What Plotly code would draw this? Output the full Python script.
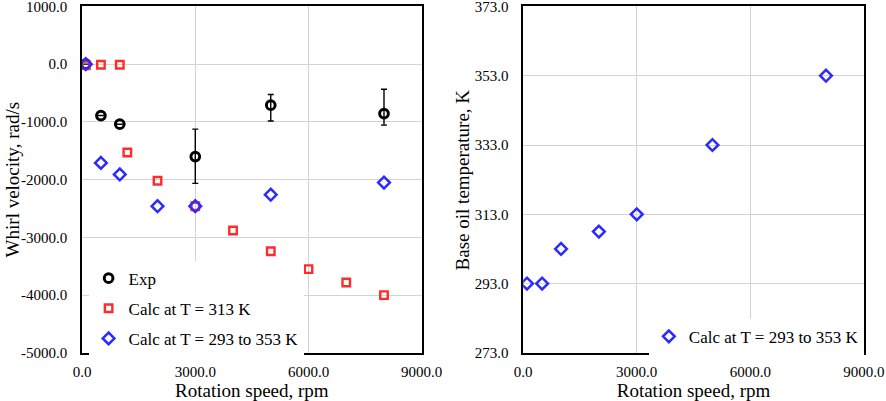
import plotly.graph_objects as go
from plotly.subplots import make_subplots

# experimental whirl velocity
exp_speed = [100, 500, 1000, 3000, 5000, 8000]
exp_whirl = [0, -890, -1040, -1600, -710, -855]
exp_err_plus = [0, 0, 0, 475, 185, 420]
exp_err_minus = [0, 0, 0, 465, 275, 200]

# calculated at constant 313 K
calc313_speed = [100, 500, 1000, 1200, 2000, 3000, 4000, 5000, 6000, 7000, 8000]
calc313_whirl = [-20, -10, -10, -1530, -2020, -2460, -2880, -3240, -3550, -3780, -4000]

# calculated with temperature 293 to 353 K
calcT_speed = [100, 500, 1000, 2000, 3000, 5000, 8000]
calcT_whirl = [0, -1710, -1910, -2460, -2460, -2260, -2050]
calcT_temp = [293, 293, 303, 308, 313, 333, 353]

x_ticks = [0, 3000, 6000, 9000]
x_ticktext = ["0.0", "3000.0", "6000.0", "9000.0"]
whirl_ticks = [1000, 0, -1000, -2000, -3000, -4000, -5000]
whirl_ticktext = ["1000.0", "0.0", "-1000.0", "-2000.0", "-3000.0", "-4000.0", "-5000.0"]
temp_ticks = [273, 293, 313, 333, 353, 373]
temp_ticktext = ["273.0", "293.0", "313.0", "333.0", "353.0", "373.0"]

FONT = "Liberation Serif"
RED = "#ff2b2b"
BLUE = "#2b2bff"

fig = make_subplots(rows=1, cols=2)

fig.add_trace(
    go.Scatter(
        x=exp_speed, y=exp_whirl, mode="markers", name="Exp",
        marker=dict(symbol="circle-open", size=8.7, color="black", line=dict(width=3)),
        error_y=dict(type="data", symmetric=False, array=exp_err_plus,
                     arrayminus=exp_err_minus, color="black", thickness=1.4, width=3),
        legendgroup="a", legend="legend",
    ),
    row=1, col=1,
)
fig.add_trace(
    go.Scatter(
        x=calc313_speed, y=calc313_whirl, mode="markers", name="Calc at T = 313 K",
        marker=dict(symbol="square-open", size=7.5, color=RED, line=dict(width=2.4)),
        legendgroup="b", legend="legend",
    ),
    row=1, col=1,
)
fig.add_trace(
    go.Scatter(
        x=calcT_speed, y=calcT_whirl, mode="markers", name="Calc at T = 293 to 353 K",
        marker=dict(symbol="diamond-open", size=9, color=BLUE, line=dict(width=2.5)),
        legendgroup="c", legend="legend",
    ),
    row=1, col=1,
)
fig.add_trace(
    go.Scatter(
        x=calcT_speed, y=calcT_temp, mode="markers", name="Calc at T = 293 to 353 K",
        marker=dict(symbol="diamond-open", size=9, color=BLUE, line=dict(width=2.5)),
        legend="legend2",
    ),
    row=1, col=2,
)

axis_common = dict(
    showline=True, linecolor="black", linewidth=1.5, mirror=True,
    showgrid=True, gridcolor="#d4d4d4", gridwidth=1, zeroline=False,
    ticks="", tickfont=dict(family=FONT, size=15, color="black"),
    title_font=dict(family=FONT, size=19, color="black"),
    ticklabeloverflow="allow",
)

fig.update_xaxes(
    range=[0, 9000], tickvals=x_ticks, ticktext=x_ticktext,
    title_text="Rotation speed, rpm", ticklabelstandoff=4, **axis_common,
)
fig.update_xaxes(domain=[0.0926, 0.476], row=1, col=1)
fig.update_xaxes(domain=[0.5905, 0.975], row=1, col=2)
fig.update_yaxes(
    range=[-5000, 1000], tickvals=whirl_ticks, ticktext=whirl_ticktext,
    ticklabelstandoff=10, domain=[0.12, 0.984], row=1, col=1, **axis_common,
)
fig.update_yaxes(
    range=[273, 373], tickvals=temp_ticks, ticktext=temp_ticktext,
    ticklabelstandoff=10, domain=[0.12, 0.984], row=1, col=2, **axis_common,
)

# y axis titles
for text, xpos in [("Whirl velocity, rad/s", 0.0135), ("Base oil temperature, K", 0.5225)]:
    fig.add_annotation(
        text=text, x=xpos, y=0.5525, xref="paper", yref="paper",
        xanchor="center", yanchor="middle", textangle=-90, showarrow=False,
        font=dict(family=FONT, size=19, color="black"),
    )

fig.update_layout(
    width=886, height=401,
    margin=dict(l=0, r=0, t=0, b=0, autoexpand=False),
    paper_bgcolor="white", plot_bgcolor="white",
    font=dict(family=FONT, color="black"),
    legend=dict(
        x=0.1, y=0.35, xanchor="left", yanchor="top",
        bgcolor="white", font=dict(family=FONT, size=17, color="black"),
        traceorder="grouped", tracegroupgap=5,
    ),
    legend2=dict(
        x=0.975, y=0.205, xanchor="right", yanchor="top",
        bgcolor="white", font=dict(family=FONT, size=17, color="black"),
    ),
)

fig.write_html(
    "out.html",
    config={"displayModeBar": False},
    post_script="document.body.style.margin='0';",
)
